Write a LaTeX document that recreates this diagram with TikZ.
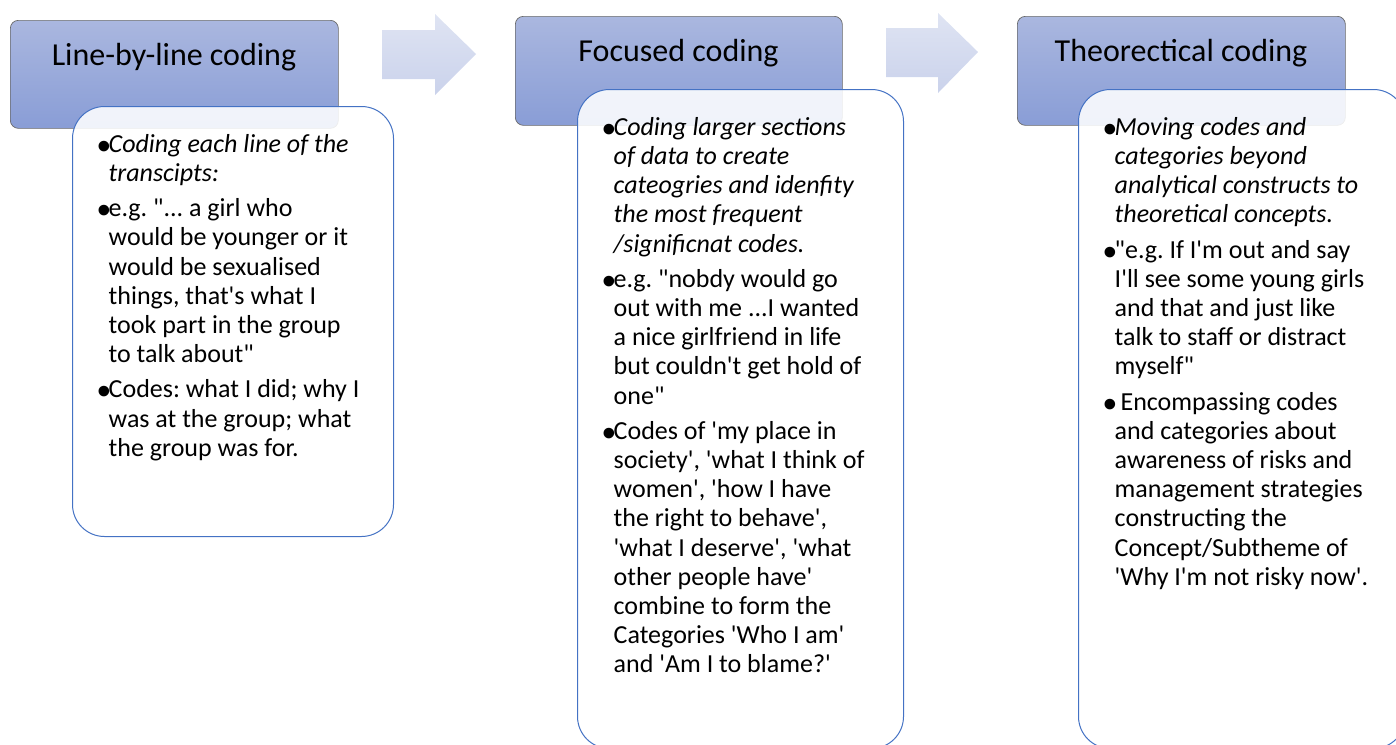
\documentclass[tikz,border=0pt]{standalone}
\usepackage{fontspec}
\setmainfont{Carlito}[Ligatures=TeXOff]
\newfontfamily\bulfont{Liberation Sans}
\definecolor{hdrtop}{RGB}{170,183,223}
\definecolor{hdrbot}{RGB}{137,157,214}
\definecolor{hdrline}{RGB}{105,105,105}
\definecolor{cntline}{RGB}{68,114,196}
\definecolor{arrtop}{RGB}{223,228,243}
\definecolor{arrbot}{RGB}{202,210,235}
\newcommand\fl{\rule{0pt}{20pt}}
\newcommand\bul{\makebox[10.5pt][l]{\hspace*{-0.5pt}\raisebox{-7pt}{\scalebox{1.5}{\bulfont •}}}}
\newcommand\ind{\hspace*{10.5pt}}
\begin{document}
\frenchspacing
\begin{tikzpicture}[x=1pt,y=-1pt,
  hdr/.style={rounded corners=8pt, draw=hdrline, line width=0.7pt, top color=hdrtop, bottom color=hdrbot, inner sep=0pt, anchor=north west},
  cnt/.style={rounded corners=32pt, draw=cntline, line width=1pt, fill=white, fill opacity=0.88, draw opacity=1, inner sep=0pt, anchor=north west},
  arr/.style={top color=arrtop, bottom color=arrbot, draw=none},
  htxt/.style={font=\fontsize{32}{38}\selectfont, inner sep=0pt, anchor=base},
  btxt/.style={font=\fontsize{26}{29.2}\selectfont, align=left, inner sep=0pt, anchor=north west}]
\useasboundingbox (0,0) rectangle (1396,744);
\clip (0,0) rectangle (1396,744);

% ---- column 1
\node[hdr, minimum width=328pt, minimum height=108pt] (h1) at (10,20) {};
\node[htxt] (h1t) at (174,65) {Line-by-line coding};
\node[cnt, minimum width=321pt, minimum height=430pt] (c1) at (72,106) {};
\node[btxt] (t1) at (98,132) {%
\fl\bul\textit{Coding each line of the}\\
\ind\textit{transcipts:}\\[6pt]
\bul e.g. "... a girl who\\
\ind would be younger or it\\
\ind would be sexualised\\
\ind things, that's what I\\
\ind took part in the group\\
\ind to talk about"\\[6pt]
\bul Codes: what I did; why I\\
\ind was at the group; what\\
\ind the group was for.};

\path[arr] (382,30) -- (435,30) -- (435,14) -- (476,54) -- (435,95) -- (435,79) -- (382,79) -- cycle;

% ---- column 2
\node[hdr, minimum width=327pt, minimum height=109pt] (h2) at (515,16) {};
\node[htxt] (h2t) at (678.5,61) {Focused coding};
\node[cnt, minimum width=326pt, minimum height=659pt] (c2) at (577,89) {};
\node[btxt] (t2) at (603,115) {%
\fl\bul\textit{Coding larger sections}\\
\ind\textit{of data to create}\\
\ind\textit{cateogries and idenfity}\\
\ind\textit{the most frequent}\\
\ind\textit{/significnat codes.}\\[6pt]
\bul e.g. "nobdy would go\\
\ind out with me ...I wanted\\
\ind a nice girlfriend in life\\
\ind but couldn't get hold of\\
\ind one"\\[6pt]
\bul Codes of 'my place in\\
\ind society', 'what I think of\\
\ind women', 'how I have\\
\ind the right to behave',\\
\ind 'what I deserve', 'what\\
\ind other people have'\\
\ind combine to form the\\
\ind Categories 'Who I am'\\
\ind and 'Am I to blame?'};

\path[arr] (886,28) -- (938,28) -- (938,13) -- (978,52) -- (938,93) -- (938,77) -- (886,77) -- cycle;

% ---- column 3
\node[hdr, minimum width=328pt, minimum height=109pt] (h3) at (1017,16) {};
\node[htxt] (h3t) at (1181,61) {Theorectical coding};
\node[cnt, minimum width=327pt, minimum height=659pt] (c3) at (1078,89) {};
\node[btxt] (t3) at (1104,115) {%
\fl\bul\textit{Moving codes and}\\
\ind\textit{categories beyond}\\
\ind\textit{analytical constructs to}\\
\ind\textit{theoretical concepts.}\\[6pt]
\bul "e.g. If I'm out and say\\
\ind I'll see some young girls\\
\ind and that and just like\\
\ind talk to staff or distract\\
\ind myself"\\[6pt]
\bul{} Encompassing codes\\
\ind and categories about\\
\ind awareness of risks and\\
\ind management strategies\\
\ind constructing the\\
\ind Concept/Subtheme of\\
\ind 'Why I'm not risky now'.};
\end{tikzpicture}
\end{document}
